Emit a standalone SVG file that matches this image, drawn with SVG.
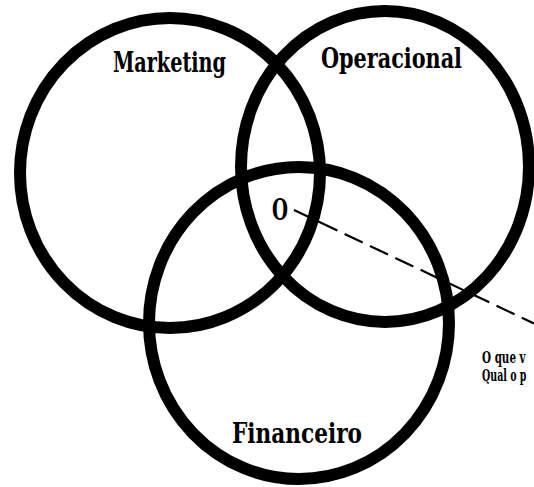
<svg xmlns="http://www.w3.org/2000/svg" width="534" height="487" viewBox="0 0 534 487">
<style>
.c{fill:none;stroke:#000;stroke-width:12}
.t{font-family:"DejaVu Serif Condensed","DejaVu Serif","Liberation Serif",serif;font-weight:bold;font-stretch:condensed;fill:#000}
.l{font-size:27px}
.s{font-size:16px}
.d{fill:none;stroke:#000;stroke-width:2.2;stroke-dasharray:48 8 20 8 20 8 20 8 20 8 20 8 20 8 20 8 20 8 20 8}
</style>
<rect width="534" height="487" fill="#fff"/>
<g id="marketing">
<ellipse class="c" cx="170" cy="173" rx="150" ry="155"/>
<text class="t l" x="113" y="72" textLength="113" lengthAdjust="spacingAndGlyphs">Marketing</text>
</g>
<g id="operacional">
<ellipse class="c" cx="385" cy="166.5" rx="144" ry="155.5"/>
<text class="t l" x="321" y="68" textLength="141" lengthAdjust="spacingAndGlyphs">Operacional</text>
</g>
<g id="financeiro">
<ellipse class="c" cx="299" cy="323" rx="150" ry="156"/>
<text class="t l" x="232" y="443" textLength="130" lengthAdjust="spacingAndGlyphs">Financeiro</text>
</g>
<g id="centro">
<text class="t" x="272" y="220" font-size="30" textLength="16" lengthAdjust="spacingAndGlyphs">O</text>
</g>
<g id="nota">
<text class="t s" transform="translate(482 363) scale(0.72 1)">O que v</text>
<text class="t s" transform="translate(482 381) scale(0.66 1)">Qual o p</text>
</g>
<g id="connectors">
<path class="d" d="M294 210 L534 323.5"/>
</g>
</svg>
